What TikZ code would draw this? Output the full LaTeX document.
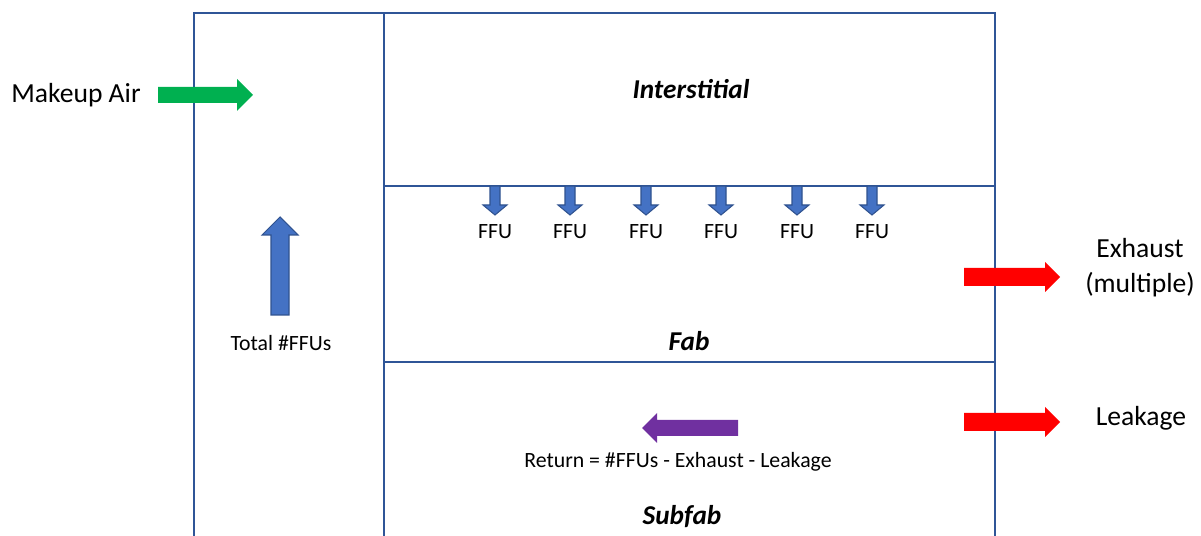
\documentclass[tikz,border=0pt]{standalone}
\usepackage{fontspec}
\setmainfont{Carlito}

\definecolor{wallblue}{HTML}{2F5597}
\definecolor{ffublue}{HTML}{4472C4}
\definecolor{ffuedge}{HTML}{2F528F}
\definecolor{makeupgreen}{HTML}{00B050}
\definecolor{exhaustred}{HTML}{FF0000}
\definecolor{returnpurple}{HTML}{7030A0}

% #1 look, #2 tail, #3 angle, #4 length, #5 half shaft, #6 half head, #7 head length
\newcommand{\blockarrow}[7]{%
  \path[#1,shift={#2},rotate=#3] (0,-#5) -- ({#4-#7},-#5) -- ({#4-#7},-#6) -- (#4,0)
    -- ({#4-#7},#6) -- ({#4-#7},#5) -- (0,#5) -- cycle;}

\begin{document}
\begin{tikzpicture}[x=0.02cm,y=-0.02cm,
	wall/.style={draw=wallblue,line width=1.2pt},
	big/.style={font=\fontsize{15.7}{20}\selectfont},
	small/.style={font=\fontsize{12.4}{14}\selectfont},
	zone/.style={font=\fontsize{15.5}{18}\selectfont\bfseries\itshape},
	ffuarrow/.style={fill=ffublue,draw=ffuedge,line width=0.6pt}]
		\useasboundingbox (0,0) rectangle (1201,536);

		% walls
		\draw[wall] (194,536) -- (194,13) -- (995,13) -- (995,536);
		\draw[wall] (384,13) -- (384,536);
		\draw[wall] (384,186) -- (995,186);
		\draw[wall] (384,362) -- (995,362);

		% zones
		\node[zone](inter) at (691,89) {Interstitial};
		\node[zone](fab) at (689,341) {Fab};
		\node[zone](subfab) at (682,517) {Subfab};

		% makeup air
		\node[big](makeup) at (76,95) {Makeup Air};
		\blockarrow{fill=makeupgreen}{(158,95)}{0}{95}{8}{16}{16}

		% total
		\blockarrow{ffuarrow}{(280,315)}{90}{98}{9}{18}{18}
		\node[small](total) at (281,343) {Total \#FFUs};

		% ffus
		\foreach \x [count=\i] in {495,570,646,721,797,872} {
			\blockarrow{ffuarrow}{(\x,186)}{-90}{29}{5}{12}{10}
			\node[small](ffu\i) at (\x,232) {FFU};
		}

		% exhaust and leakage
		\blockarrow{fill=exhaustred}{(964,277)}{0}{96}{9}{15}{15}
		\node[big,align=center](exhaust) at (1140,268) {Exhaust\\(multiple)};
		\blockarrow{fill=exhaustred}{(964,422)}{0}{96}{9}{15}{15}
		\node[big](leak) at (1141,418) {Leakage};

		% return
		\blockarrow{fill=returnpurple}{(738,428)}{180}{96}{8}{15}{15}
		\node[small](ret) at (678,462) {Return = \#FFUs - Exhaust - Leakage};

	\end{tikzpicture}
\end{document}
